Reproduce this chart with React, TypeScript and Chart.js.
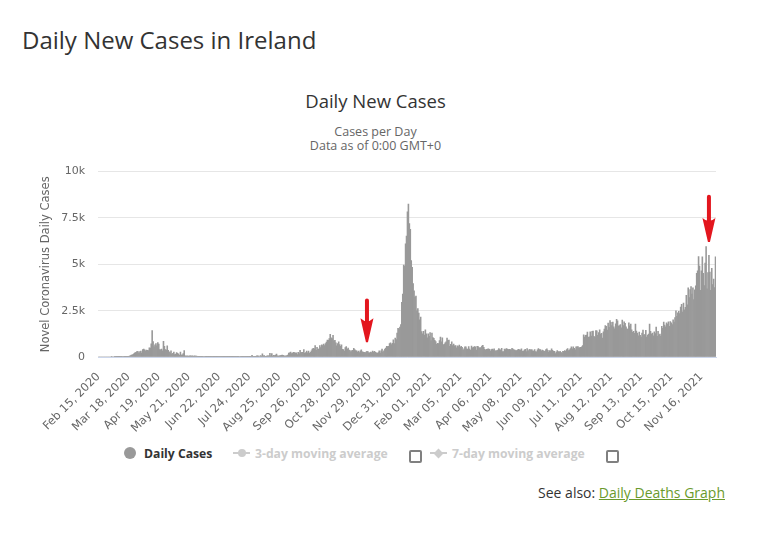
import React, { useEffect, useRef } from "react";
import { Chart, registerables } from "chart.js";

Chart.register(...registerables);

// First category: Feb 15, 2020 (one bar per day)
const startYear = 2020;
const startMonth = 1; // 0-based: February
const startDay = 15;
const monthNames = ["Jan", "Feb", "Mar", "Apr", "May", "Jun", "Jul", "Aug", "Sep", "Oct", "Nov", "Dec"];

// Daily new cases, one value per day starting Feb 15, 2020 (rows are weeks)
const dailyCases: number[] = [
  0, 0, 0, 0, 0, 0, 0,
  0, 0, 0, 0, 0, 0, 0,
  1, 0, 0, 1, 4, 6, 5,
  1, 2, 3, 13, 9, 27, 20,
  12, 21, 20, 35, 40, 50, 70,
  102, 121, 149, 204, 235, 255, 302,
  294, 200, 295, 325, 212, 402, 424,
  390, 331, 370, 365, 345, 500, 480,
  711, 1430, 832, 548, 657, 724, 597,
  778, 693, 401, 388, 431, 336, 850,
  577, 401, 376, 600, 359, 274, 221,
  330, 158, 200, 265, 135, 158, 236,
  197, 159, 87, 259, 107, 122, 181,
  340, 64, 56, 64, 56, 51, 59,
  57, 48, 60, 37, 59, 47, 43,
  40, 35, 20, 24, 31, 20, 15,
  27, 22, 9, 13, 10, 10, 18,
  17, 14, 12, 18, 10, 18, 22,
  12, 11, 11, 6, 16, 8, 15,
  14, 10, 24, 11, 9, 11, 13,
  8, 9, 15, 23, 12, 21, 11,
  17, 23, 22, 28, 32, 24, 18,
  20, 12, 13, 13, 11, 18, 16,
  21, 19, 85, 13, 24, 38, 37,
  58, 65, 50, 29, 72, 50, 174,
  68, 75, 35, 40, 68, 69, 67,
  200, 66, 190, 56, 89, 83, 107,
  156, 61, 53, 62, 72, 95, 102,
  94, 51, 61, 53, 77, 100, 214,
  231, 263, 185, 214, 254, 244, 211,
  229, 136, 255, 187, 357, 240, 253,
  253, 396, 202, 234, 324, 231, 324,
  194, 251, 329, 429, 470, 442, 613,
  364, 518, 428, 432, 611, 506, 650,
  620, 700, 617, 725, 810, 911, 900,
  1000, 1220, 1031, 995, 1167, 866, 900,
  760, 600, 725, 815, 666, 572, 663,
  416, 399, 322, 504, 560, 415, 484,
  379, 344, 280, 343, 366, 472, 395,
  346, 328, 269, 322, 242, 331, 381,
  282, 262, 251, 229, 264, 312, 299,
  226, 227, 266, 245, 313, 271, 301,
  253, 227, 197, 232, 329, 210, 335,
  429, 264, 333, 431, 484, 582, 565,
  582, 727, 764, 670, 737, 922, 728,
  1025, 936, 1296, 1546, 1520, 1620, 1754,
  2944, 3394, 4962, 4900, 6110, 6521, 7836,
  8248, 7200, 6888, 5200, 4842, 3955, 3569,
  3231, 3286, 2488, 2608, 2371, 2001, 2150,
  1372, 1254, 1378, 1178, 1466, 1254, 1035,
  1247, 1113, 1318, 879, 1288, 1044, 1005,
  898, 829, 680, 744, 720, 888, 1078,
  812, 1040, 655, 680, 763, 817, 1024,
  894, 914, 575, 689, 822, 614, 701,
  609, 612, 499, 601, 560, 647, 524,
  574, 521, 361, 439, 547, 546, 440,
  411, 559, 431, 358, 583, 488, 522,
  560, 548, 371, 575, 561, 478, 505,
  495, 584, 624, 516, 411, 368, 420,
  433, 442, 411, 324, 404, 422, 391,
  444, 327, 332, 343, 377, 457, 403,
  371, 464, 295, 296, 424, 398, 453,
  425, 406, 418, 406, 380, 462, 426,
  386, 378, 344, 347, 389, 416, 390,
  372, 442, 313, 304, 367, 409, 286,
  459, 322, 389, 416, 355, 401, 334,
  318, 399, 292, 284, 391, 457, 402,
  395, 319, 377, 351, 301, 322, 400,
  437, 356, 261, 345, 335, 441, 364,
  311, 300, 191, 264, 344, 291, 262,
  305, 250, 195, 312, 304, 351, 303,
  401, 452, 342, 393, 458, 543, 434,
  545, 470, 382, 555, 543, 563, 492,
  510, 524, 550, 620, 1200, 1075, 1173,
  1179, 1345, 1058, 1085, 1356, 1126, 1386,
  1404, 1120, 1063, 1425, 1408, 1171, 1314,
  1461, 1240, 1280, 1015, 1355, 1505, 1700,
  1658, 1447, 1824, 1605, 1960, 1866, 1700,
  1880, 1626, 1520, 1790, 2035, 1950, 1665,
  1688, 1747, 1580, 1995, 1700, 1893, 1820,
  1624, 1516, 1490, 1840, 1676, 1770, 1470,
  1330, 1384, 1280, 1770, 1400, 1290, 1140,
  1350, 1175, 1080, 1290, 1450, 1193, 1207,
  1440, 1070, 1180, 1240, 1780, 1390, 1230,
  1287, 1148, 1360, 1269, 1620, 1109, 1380,
  1200, 1240, 1130, 1650, 1550, 1882, 1720,
  1630, 1840, 1780, 1902, 1660, 1910, 1845,
  1746, 2002, 1890, 2120, 2488, 2195, 2384,
  2469, 2345, 2698, 2836, 2430, 2905, 2544,
  2675, 3320, 2820, 3726, 3210, 3633, 3805,
  3400, 3726, 3100, 3620, 3840, 4516, 4650,
  5410, 4900, 3600, 4645, 5400, 4515, 3850,
  5060, 5959, 3680, 4551, 5483, 4580, 3600,
  4785, 3900, 4200, 3750, 5400,
];

// Category labels ("Feb 15, 2020", ...) one per day
const categories: string[] = dailyCases.map((_, i) => {
  const d = new Date(Date.UTC(startYear, startMonth, startDay + i));
  const dd = String(d.getUTCDate()).padStart(2, "0");
  return `${monthNames[d.getUTCMonth()]} ${dd}, ${d.getUTCFullYear()}`;
});

const tickEvery = 32;
const yMax = 10000;
const yStep = 2500;
const yTickLabels: Record<number, string> = { 0: "0", 2500: "2.5k", 5000: "5k", 7500: "7.5k", 10000: "10k" };

// Red annotation arrows: category index, start value, tip value
const arrowIndex = [285, 648];
const arrowFrom = [3050, 8650];
const arrowTo = [800, 6200];

const arrowPlugin = {
  id: "redArrows",
  afterDatasetsDraw(chart: any) {
    const { ctx, scales } = chart;
    const x = scales.x;
    const y = scales.y;
    ctx.save();
    ctx.strokeStyle = "#e3161e";
    ctx.fillStyle = "#e3161e";
    arrowIndex.forEach((idx, i) => {
      const px = x.getPixelForValue(idx);
      const y0 = y.getPixelForValue(arrowFrom[i]);
      const y1 = y.getPixelForValue(arrowTo[i]);
      const headLen = 24;
      const headW = 6.5;
      ctx.lineWidth = 4;
      ctx.lineCap = "round";
      ctx.beginPath();
      ctx.moveTo(px, y0);
      ctx.lineTo(px, y1 - headLen + 6);
      ctx.stroke();
      ctx.beginPath();
      ctx.moveTo(px - headW, y1 - headLen);
      ctx.quadraticCurveTo(px, y1 - headLen + 6, px + headW, y1 - headLen);
      ctx.lineTo(px + 1, y1);
      ctx.lineTo(px - 1, y1);
      ctx.closePath();
      ctx.fill();
    });
    ctx.restore();
  },
};

export default function App() {
  const canvasRef = useRef<HTMLCanvasElement>(null);

  useEffect(() => {
    const chart = new Chart(canvasRef.current as HTMLCanvasElement, {
      type: "bar",
      data: {
        labels: categories,
        datasets: [
          {
            label: "Daily Cases",
            data: dailyCases,
            backgroundColor: "#999999",
            borderWidth: 0,
            barPercentage: 1,
            categoryPercentage: 1,
          },
        ],
      },
      options: {
        animation: false,
        responsive: true,
        maintainAspectRatio: false,
        layout: { padding: { top: 18, right: 14, left: 0, bottom: 0 } },
        plugins: {
          legend: { display: false },
          tooltip: { enabled: false },
          title: { display: false },
        },
        scales: {
          x: {
            type: "category",
            grid: { display: false, drawTicks: false },
            border: { display: true, color: "#ccd6eb", width: 1 },
            ticks: {
              autoSkip: false,
              minRotation: 45,
              maxRotation: 45,
              padding: 13,
              color: "#666666",
              font: { family: '"DejaVu Sans", sans-serif', size: 11.5 },
              callback: function (this: any, value: any, index: number) {
                return index % tickEvery === 0 ? categories[index] : null;
              },
            },
            afterFit: (scale: any) => {
              scale.height = 83;
            },
          },
          y: {
            min: 0,
            max: yMax,
            grid: { color: "#e6e6e6", drawTicks: false },
            border: { display: false },
            ticks: {
              stepSize: yStep,
              padding: 13,
              color: "#666666",
              font: { family: '"DejaVu Sans", sans-serif', size: 11 },
              callback: (v: any) => yTickLabels[v as number] ?? "",
            },
            title: {
              display: true,
              text: "Novel Coronavirus Daily Cases",
              color: "#666666",
              font: { family: '"DejaVu Sans", sans-serif', size: 11.5 },
              padding: { top: 9, bottom: 0 },
            },
            afterFit: (scale: any) => {
              scale.width = 68;
            },
          },
        },
      },
      plugins: [arrowPlugin],
    });
    return () => chart.destroy();
  }, []);

  const legendText: React.CSSProperties = {
    position: "absolute",
    top: 446.5,
    fontSize: 12.2,
    lineHeight: "13px",
    fontWeight: 700,
    whiteSpace: "nowrap",
  };
  const checkbox: React.CSSProperties = {
    position: "absolute",
    top: 450,
    width: 9,
    height: 9,
    border: "2px solid #808080",
    borderRadius: 2,
    background: "#fff",
  };

  return (
    <div
      style={{
        position: "absolute",
        left: 0,
        top: 0,
        width: 777,
        height: 533,
        background: "#ffffff",
        overflow: "hidden",
        fontFamily: '"Open Sans", sans-serif',
      }}
    >
      <div style={{ position: "absolute", left: 22, top: 28, fontSize: 24, lineHeight: "24px", color: "#333333", whiteSpace: "nowrap" }}>
        Daily New Cases in Ireland
      </div>
      <div style={{ position: "absolute", left: 0, width: 751, top: 91.5, textAlign: "center", fontSize: 18.5, lineHeight: "18px", color: "#333333" }}>
        Daily New Cases
      </div>
      <div style={{ position: "absolute", left: 0, width: 751, top: 124.5, textAlign: "center", fontSize: 12.5, lineHeight: "14px", color: "#666666" }}>
        Cases per Day
        <br />
        Data as of 0:00 GMT+0
      </div>

      <div style={{ position: "absolute", left: 30, top: 152, width: 700, height: 288 }}>
        <canvas ref={canvasRef} />
      </div>

      {/* Legend */}
      <div style={{ position: "absolute", left: 124, top: 447, width: 12, height: 12, borderRadius: "50%", background: "#999999" }} />
      <div style={{ ...legendText, left: 144, color: "#333333" }}>Daily Cases</div>

      <div style={{ position: "absolute", left: 233, top: 452, width: 17, height: 2, background: "#cccccc" }} />
      <div style={{ position: "absolute", left: 237.5, top: 449, width: 8, height: 8, borderRadius: "50%", background: "#cccccc" }} />
      <div style={{ ...legendText, left: 255, color: "#cccccc" }}>3-day moving average</div>
      <div style={{ ...checkbox, left: 409 }} />

      <div style={{ position: "absolute", left: 430, top: 452, width: 17, height: 2, background: "#cccccc" }} />
      <div style={{ position: "absolute", left: 435, top: 449.5, width: 7, height: 7, background: "#cccccc", transform: "rotate(45deg)" }} />
      <div style={{ ...legendText, left: 452, color: "#cccccc" }}>7-day moving average</div>
      <div style={{ ...checkbox, left: 606 }} />

      <div style={{ position: "absolute", right: 52, top: 486, fontSize: 14, lineHeight: "14px", color: "#333333", whiteSpace: "nowrap" }}>
        See also: <span style={{ color: "#6a9a2c", textDecoration: "underline" }}>Daily Deaths Graph</span>
      </div>
    </div>
  );
}
